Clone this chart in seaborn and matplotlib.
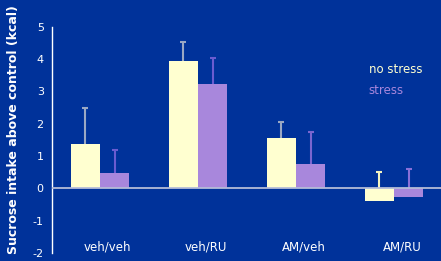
import numpy as np
import pandas as pd
import matplotlib.pyplot as plt
import seaborn as sns

# values
groups = ['veh/veh', 'veh/RU', 'AM/veh', 'AM/RU']
conditions = ['no stress', 'stress']
no_stress = [1.36, 3.93, 1.55, -0.40]
stress = [0.46, 3.22, 0.74, -0.27]
no_stress_err = [1.12, 0.59, 0.50, 0.90]
stress_err = [0.72, 0.83, 1.01, 0.86]

bg = '#00329a'
bar_colors = ['#ffffd0', '#a887dc']
err_colors = [['#9aa8c4', '#9aa8c4', '#9aa8c4', '#f4f4c0'],
              ['#6a5cd0', '#6a5cd0', '#7a66d0', '#8a70d8']]

df = pd.DataFrame({
    'group': groups * 2,
    'condition': [conditions[0]] * 4 + [conditions[1]] * 4,
    'value': no_stress + stress,
})

sns.set_style('white')
plt.rcParams['font.family'] = ['DejaVu Sans']
plt.rcParams['axes.unicode_minus'] = False

fig = plt.figure(figsize=(4.41, 2.61), dpi=100, facecolor=bg)
ax = fig.add_axes([0.118, 0.031, 0.882, 0.866], facecolor=bg)

sns.barplot(data=df, x='group', y='value', hue='condition', hue_order=conditions,
            palette=bar_colors, errorbar=None, width=0.6, saturation=1,
            linewidth=0, legend=False, ax=ax)

# one-sided error bars (stem + top cap), kept behind the bars
for ci, (vals, errs) in enumerate([(no_stress, no_stress_err), (stress, stress_err)]):
    cont = ax.containers[ci]
    for i, (bar, v, e) in enumerate(zip(cont, vals, errs)):
        bar.set_zorder(3)
        x = bar.get_x() + bar.get_width() / 2
        c = err_colors[ci][i]
        ax.vlines(x, v, v + e, color=c, lw=1.5, zorder=2)
        ax.plot([x], [v + e], marker='_', ms=5, mew=1.5, color=c, zorder=2)

ax.axhline(0, color='#b4bcd8', lw=1.3, zorder=4)

ax.set_xlim(-0.49, 3.48)
ax.set_ylim(-2, 5)
ax.set_yticks(range(-2, 6))
ax.tick_params(axis='y', colors='white', labelsize=8, length=2, width=1, pad=4)
ax.tick_params(axis='x', bottom=False, labelbottom=False)
for s in ['top', 'right', 'bottom']:
    ax.spines[s].set_visible(False)
ax.spines['left'].set_color('white')
ax.spines['left'].set_linewidth(1)
ax.set_xlabel('')
ax.set_ylabel('')

for i, g in enumerate(groups):
    ax.text(i + 0.08, -1.82, g, color='white', fontsize=8.5, ha='center', va='center')

fig.text(0.03, 0.505, 'Sucrose intake above control (kcal)', rotation=90,
         color='white', fontsize=9, fontweight='bold', ha='center', va='center')

fig.text(0.836, 0.735, 'no stress', color=bar_colors[0], fontsize=8.5, ha='left', va='center')
fig.text(0.836, 0.652, 'stress', color=bar_colors[1], fontsize=8.5, ha='left', va='center')

fig.savefig('out.png', dpi=100, facecolor=bg)
